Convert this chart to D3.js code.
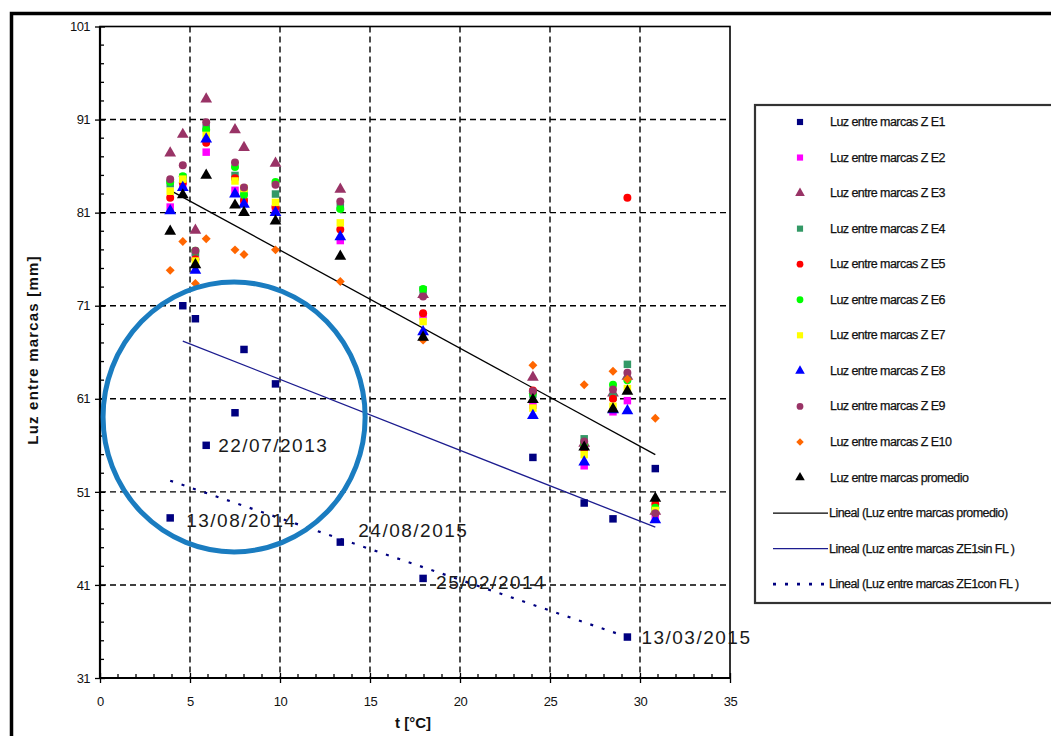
<!DOCTYPE html>
<html><head><meta charset="utf-8">
<script src="https://cdn.jsdelivr.net/npm/d3@7"></script>
<style>body{margin:0;background:#fff} svg{display:block}</style>
</head><body><svg id="c" width="1051" height="736"></svg>
<script>
// ---- data ----
const temps = [3.9, 4.6, 5.3, 5.9, 7.5, 8.0, 9.75, 13.35, 17.95, 24.05, 26.9, 28.5, 29.3, 30.85];
const ze1  = [48.2, 71.0, 69.6, 56.0, 59.5, 66.3, 62.6, 45.6, 41.7, 54.7, 49.8, 48.1, 35.4, 53.5];
const ze2  = [81.6, 83.9, 76.4, 87.5, 83.4, 82.2, 81.3, 78.0, 69.9, 60.3, 53.8, 59.6, 60.8, 48.3];
const ze3  = [87.4, 89.4, 79.1, 93.2, 89.9, 88.0, 86.3, 83.5, 72.2, 63.3, 56.2, 61.6, 63.4, 48.9];
const ze4  = [84.1, 84.8, 76.7, 90.1, 85.0, 83.3, 83.0, 81.6, 72.7, 61.5, 56.7, 61.2, 64.7, 49.0];
const ze5  = [82.6, 84.2, 76.0, 88.5, 84.7, 82.3, 81.6, 79.2, 70.2, 61.9, 55.6, 61.0, 82.6, 49.7];
const ze6  = [84.3, 84.9, 76.9, 89.9, 85.9, 82.9, 84.3, 81.4, 72.8, 61.6, 56.2, 62.5, 63.0, 49.3];
const ze7  = [83.3, 84.6, 75.8, 89.3, 84.4, 83.6, 82.1, 79.9, 69.3, 60.0, 55.0, 60.2, 62.1, 49.0];
const ze8  = [81.2, 83.7, 74.8, 88.9, 83.0, 81.9, 81.0, 78.4, 68.2, 59.2, 54.2, 59.8, 59.7, 48.0];
const ze9  = [84.6, 86.1, 76.9, 90.7, 86.4, 83.7, 84.0, 82.2, 72.0, 61.8, 56.4, 62.0, 63.8, 48.7];
const ze10 = [74.8, 77.9, 73.4, 78.2, 77.0, 76.5, 77.0, 73.6, 67.3, 64.6, 62.5, 63.95, 63.1, 58.9];
const promedio = [79.0, 82.9, 75.4, 85.0, 81.8, 81.0, 80.1, 76.3, 67.6, 60.9, 55.8, 59.9, 61.8, 50.3];

const seriesNames = ["Luz entre marcas Z E1","Luz entre marcas Z E2","Luz entre marcas Z E3","Luz entre marcas Z E4",
  "Luz entre marcas Z E5","Luz entre marcas Z E6","Luz entre marcas Z E7","Luz entre marcas Z E8",
  "Luz entre marcas Z E9","Luz entre marcas Z E10","Luz entre marcas promedio"];
const trendNames = ["Lineal (Luz entre marcas promedio)","Lineal (Luz entre marcas ZE1sin FL )","Lineal (Luz entre marcas ZE1con FL )"];

// trend lines (endpoints)
const trendPromX = [3.9, 30.85], trendPromY = [83.4, 55.0];
const trendSinX  = [4.6, 30.85], trendSinY  = [67.2, 47.2];
const trendConX  = [3.9, 29.3],  trendConY  = [52.2, 35.4];

// date labels on ZE1 points (index into temps/ze1)
const dateIdx   = [3, 0, 7, 8, 12];
const dateTexts = ["22/07/2013", "13/08/2014", "24/08/2015", "25/02/2014", "13/03/2015"];

// highlight ellipse (data units): cx, cy, rx, ry
const ellipseData = [7.45, 59.05, 7.28, 14.5];

const xTicks = [0, 5, 10, 15, 20, 25, 30, 35];
const yTicks = [31, 41, 51, 61, 71, 81, 91, 101];

// ---- chart ----
const svg = d3.select("#c");
const X0 = 100, X1 = 730, Y0 = 678, Y1 = 26.5;
const x = d3.scaleLinear().domain([0, 35]).range([X0, X1]);
const y = d3.scaleLinear().domain([31, 101]).range([Y0, Y1]);

// outer frame
svg.append("path").attr("d", "M11.5,740 V13.5 H1060").attr("fill", "none").attr("stroke", "#000").attr("stroke-width", 3.5);

// grid
const g = svg.append("g");
g.selectAll(".vg").data(xTicks.slice(1, -1)).join("line")
  .attr("x1", d => x(d)).attr("x2", d => x(d)).attr("y1", Y1).attr("y2", Y0)
  .attr("stroke", "#000").attr("stroke-width", 1.4).attr("stroke-dasharray", "6,4");
g.selectAll(".hg").data(yTicks.slice(1, -1)).join("line")
  .attr("y1", d => y(d)).attr("y2", d => y(d)).attr("x1", X0).attr("x2", X1)
  .attr("stroke", "#000").attr("stroke-width", 1.4).attr("stroke-dasharray", "6,4");

// plot border
svg.append("rect").attr("x", X0).attr("y", Y1).attr("width", X1 - X0).attr("height", Y0 - Y1)
  .attr("fill", "none").attr("stroke", "#000").attr("stroke-width", 1.6);
svg.append("line").attr("x1", X0).attr("x2", X0).attr("y1", Y1).attr("y2", Y0).attr("stroke", "#000").attr("stroke-width", 2.2);
svg.append("line").attr("x1", X0).attr("x2", X1).attr("y1", Y0).attr("y2", Y0).attr("stroke", "#000").attr("stroke-width", 2.2);

// minor ticks
const yMinor = d3.range(31, 101.01, 2).filter(v => !yTicks.includes(v));
svg.selectAll(".ym").data(yMinor).join("line")
  .attr("x1", X0).attr("x2", X0 + 4).attr("y1", d => y(d)).attr("y2", d => y(d))
  .attr("stroke", "#000").attr("stroke-width", 1.3);
const xMinor = d3.range(0, 35.01, 1).filter(v => !xTicks.includes(v));
svg.selectAll(".xm").data(xMinor).join("line")
  .attr("y1", Y0).attr("y2", Y0 - 4).attr("x1", d => x(d)).attr("x2", d => x(d))
  .attr("stroke", "#000").attr("stroke-width", 1.3);

// axes (major ticks + labels)
const axFont = "'Liberation Sans', Arial, sans-serif";
const ya = svg.append("g").attr("transform", `translate(${X0},0)`)
  .call(d3.axisLeft(y).tickValues(yTicks).tickSizeInner(5).tickSizeOuter(0).tickPadding(5));
ya.select(".domain").remove();
ya.selectAll(".tick line").attr("x2", -5).attr("stroke-width", 1.3).clone().attr("x2", 5);
ya.selectAll(".tick text").attr("font-family", axFont).attr("font-size", 13).attr("fill", "#111").attr("letter-spacing", "-0.6px");

const xa = svg.append("g").attr("transform", `translate(0,${Y0})`)
  .call(d3.axisBottom(x).tickValues(xTicks).tickSizeInner(5).tickSizeOuter(0).tickPadding(14));
xa.select(".domain").remove();
xa.selectAll(".tick line").attr("stroke-width", 1.3).clone().attr("y2", -5);
xa.selectAll(".tick text").attr("font-family", axFont).attr("font-size", 13).attr("fill", "#111").attr("letter-spacing", "-0.4px");

// axis titles
svg.append("text").attr("x", 413).attr("y", 728).attr("text-anchor", "middle")
  .attr("font-family", axFont).attr("font-size", 15).attr("font-weight", "bold").attr("fill", "#111").text("t [°C]");
svg.append("text").attr("transform", "translate(38,350) rotate(-90)").attr("text-anchor", "middle")
  .attr("font-family", axFont).attr("font-size", 15).attr("font-weight", "bold").attr("fill", "#111").attr("letter-spacing", "1.2px")
  .text("Luz entre marcas [mm]");

// trend lines
const line = d3.line().x(d => x(d[0])).y(d => y(d[1]));
svg.append("path").attr("d", line(d3.zip(trendPromX, trendPromY))).attr("stroke", "#000").attr("stroke-width", 1.3).attr("fill", "none");
svg.append("path").attr("d", line(d3.zip(trendSinX, trendSinY))).attr("stroke", "#1c1c8f").attr("stroke-width", 1.3).attr("fill", "none");
svg.append("path").attr("d", line(d3.zip(trendConX, trendConY))).attr("stroke", "#000080").attr("stroke-width", 2.2).attr("stroke-dasharray", "3,9").attr("fill", "none");

// markers
const shapes = {
  square: d3.symbol(d3.symbolSquare, 56),
  triangle: d3.symbol(d3.symbolTriangle, 60),
  circle: d3.symbol(d3.symbolCircle, 50),
  diamond: d3.symbol(d3.symbolSquare, 40)
};
const legShapes = {
  square: d3.symbol(d3.symbolSquare, 38),
  triangle: d3.symbol(d3.symbolTriangle, 40),
  circle: d3.symbol(d3.symbolCircle, 36),
  diamond: d3.symbol(d3.symbolSquare, 28)
};
const allSeries = [ze1, ze2, ze3, ze4, ze5, ze6, ze7, ze8, ze9, ze10, promedio];
const colors = ["#000080", "#ff00ff", "#993366", "#339966", "#ff0000", "#00ff00", "#ffff00", "#0000ff", "#993366", "#ff6600", "#000000"];
const kinds = ["square", "square", "triangle", "square", "circle", "circle", "square", "triangle", "circle", "diamond", "triangle"];
const rot = k => k === "diamond" ? " rotate(45)" : "";

allSeries.forEach((vals, si) => {
  svg.append("g").selectAll("path").data(vals).join("path")
    .attr("transform", (d, i) => `translate(${x(temps[i])},${y(d)})` + rot(kinds[si]))
    .attr("d", shapes[kinds[si]]())
    .attr("fill", colors[si]);
});

// date labels
svg.append("g").selectAll("text").data(dateIdx).join("text")
  .attr("x", (d, i) => x(temps[d]) + [12, 16, 18, 13, 14][i])
  .attr("y", (d, i) => y(ze1[d]) + [0, 3, -12, 4, 0][i])
  .attr("dominant-baseline", "central")
  .attr("font-family", axFont).attr("font-size", 19).attr("letter-spacing", "1.5px").attr("fill", "#1a1a1a")
  .text((d, i) => dateTexts[i]);

// ellipse
svg.append("ellipse")
  .attr("cx", x(ellipseData[0])).attr("cy", y(ellipseData[1]))
  .attr("rx", x(ellipseData[2]) - x(0)).attr("ry", y(31) - y(31 + ellipseData[3]))
  .attr("fill", "none").attr("stroke", "#1a7cc0").attr("stroke-width", 5);

// legend
const LX = 755, LY = 105, LW = 320, LH = 498;
svg.append("rect").attr("x", LX).attr("y", LY).attr("width", LW).attr("height", LH)
  .attr("fill", "#fff").attr("stroke", "#333").attr("stroke-width", 2.2);
const rowY = i => 122 + i * 35.55;
const lg = svg.append("g");
const legFont = 12.5, legLS = "-0.55px";
seriesNames.forEach((nm, i) => {
  lg.append("path").attr("transform", `translate(800,${rowY(i)})` + rot(kinds[i])).attr("d", legShapes[kinds[i]]()).attr("fill", colors[i]);
  lg.append("text").attr("x", 830).attr("y", rowY(i)).attr("dominant-baseline", "central")
    .attr("font-family", axFont).attr("font-size", legFont).attr("letter-spacing", legLS).attr("fill", "#111")
    .attr("stroke", "#111").attr("stroke-width", 0.25).text(nm);
});
const trendStyles = [["#000", 1.3, null], ["#1c1c8f", 1.3, null], ["#000080", 2.6, "3,9"]];
trendNames.forEach((nm, j) => {
  const i = seriesNames.length + j;
  const ln = lg.append("line").attr("x1", 773).attr("x2", 828).attr("y1", rowY(i)).attr("y2", rowY(i))
    .attr("stroke", trendStyles[j][0]).attr("stroke-width", trendStyles[j][1]);
  if (trendStyles[j][2]) ln.attr("stroke-dasharray", trendStyles[j][2]);
  lg.append("text").attr("x", 829).attr("y", rowY(i)).attr("dominant-baseline", "central")
    .attr("font-family", axFont).attr("font-size", legFont).attr("letter-spacing", legLS).attr("fill", "#111")
    .attr("stroke", "#111").attr("stroke-width", 0.25).text(nm);
});
</script></body></html>
